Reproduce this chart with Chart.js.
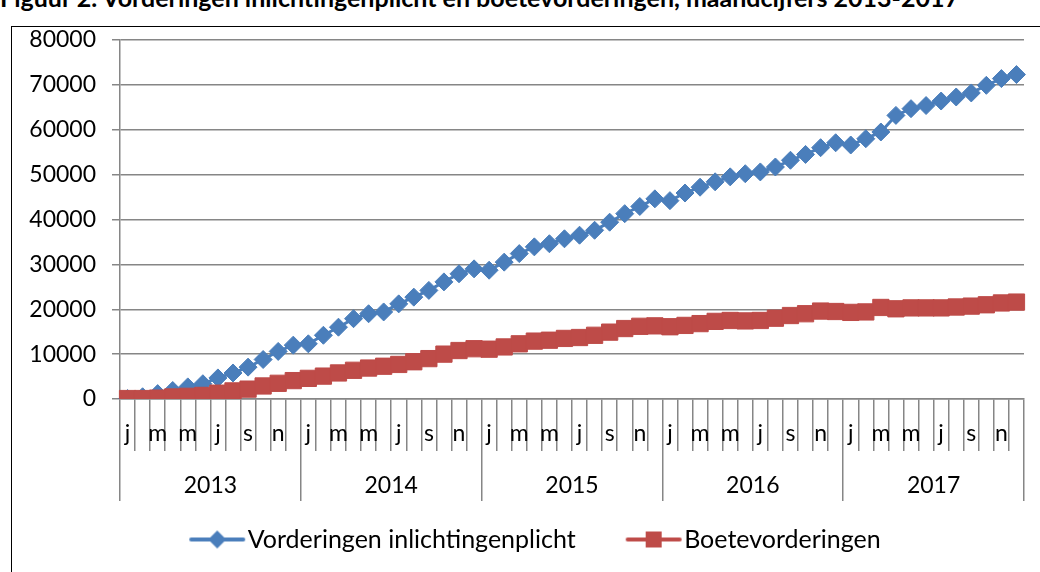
<!DOCTYPE html>
<html><head><meta charset="utf-8">
<script src="https://cdn.jsdelivr.net/npm/chart.js@4.4.1/dist/chart.umd.min.js"></script>
<style>
html,body{margin:0;padding:0;background:#fff;overflow:hidden;width:1040px;height:572px}
#frame{position:absolute;left:11px;top:26px;width:1200px;height:800px;border:1.5px solid #000;box-sizing:border-box}
#title{position:absolute;left:0;top:-15px;font:bold 25px Lato;line-height:25px;white-space:nowrap;color:#000}
#wrap{position:absolute;left:0;top:0;width:1040px;height:572px}
</style></head><body>
<div id="frame"></div>
<div id="title">Figuur 2. Vorderingen inlichtingenplicht en boetevorderingen, maandcijfers 2013-2017</div>
<div id="wrap"><canvas id="c" width="1040" height="572"></canvas></div>
<script>
const years = ['2013','2014','2015','2016','2017'];
const monthLetters = ['j','f','m','a','m','j','j','a','s','o','n','d'];
const yTicks = [0,10000,20000,30000,40000,50000,60000,70000,80000];
const seriesNames = ['Vorderingen inlichtingenplicht','Boetevorderingen'];
const vorderingen = [
  100,500,1200,1900,2700,3400,4700,5800,7100,8800,10600,12000,
  12300,14200,16000,17900,19000,19400,21200,22700,24200,26100,27900,29000,
  28700,30500,32400,33900,34600,35700,36500,37600,39400,41300,42900,44600,
  44200,45900,47200,48400,49500,50200,50600,51700,53200,54500,56000,57100,
  56600,58000,59500,63200,64700,65400,66400,67300,68200,69900,71400,72300];
const boete = [
  100,100,200,450,600,800,1300,1800,2200,2900,3500,4100,
  4600,5100,5800,6400,6900,7300,7700,8300,9000,10000,10800,11200,
  11100,11600,12300,12900,13100,13500,13700,14200,14900,15700,16200,16300,
  16100,16400,16800,17300,17500,17400,17500,18000,18600,19000,19600,19500,
  19300,19400,20400,20100,20300,20300,20300,20500,20700,21000,21400,21600];

const labels = [];
years.forEach(y => monthLetters.forEach(m => labels.push(m)));

const BLUE = '#4a7ebb', RED = '#be4b48', GRID = '#868686';
const FONT = 'Lato';

function legendIcon(color, kind) {
  const c = document.createElement('canvas');
  c.width = 60; c.height = 22;
  const g = c.getContext('2d');
  g.strokeStyle = color; g.lineWidth = 4; g.lineCap = 'round';
  g.beginPath(); g.moveTo(4, 11); g.lineTo(56, 11); g.stroke();
  g.fillStyle = color;
  g.beginPath();
  if (kind === 'diamond') { g.moveTo(30, 2); g.lineTo(39, 11); g.lineTo(30, 20); g.lineTo(21, 11); }
  else { g.rect(22, 3, 16, 16); }
  g.closePath(); g.fill();
  return c;
}
const icons = [legendIcon(BLUE, 'diamond'), legendIcon(RED, 'square')];

const legendShift = {
  id: 'legendShift',
  afterLayout(chart) { const l = chart.legend; if (l) { l.left += 28; l.right += 28; } }
};

new Chart(document.getElementById('c'), {
  type: 'line',
  plugins: [legendShift],
  data: {
    labels: labels,
    datasets: [
      { label: seriesNames[0], data: vorderingen, borderColor: BLUE, backgroundColor: BLUE, borderWidth: 3,
        pointStyle: 'rectRot', pointRadius: 9, pointBorderWidth: 1, pointBorderColor: BLUE, pointBackgroundColor: BLUE, tension: 0, order: 1 },
      { label: seriesNames[1], data: boete, borderColor: RED, backgroundColor: RED, borderWidth: 3,
        pointStyle: 'rect', pointRadius: 11.5, pointBorderWidth: 1, pointBorderColor: RED, pointBackgroundColor: RED, tension: 0, order: 0 }
    ]
  },
  options: {
    responsive: false, animation: false,
    layout: { padding: { top: 40, right: 16, bottom: 10, left: 0 } },
    plugins: {
      tooltip: { enabled: false },
      legend: {
        position: 'bottom',
        labels: {
          usePointStyle: true, pointStyleWidth: 36, padding: 60, color: '#000',
          font: { family: FONT, size: 25 },
          generateLabels: (chart) => chart.data.datasets.map((ds, i) => ({
            text: ds.label, pointStyle: icons[i], fillStyle: ds.borderColor, strokeStyle: ds.borderColor,
            lineWidth: 0, hidden: false, datasetIndex: i
          }))
        }
      }
    },
    scales: {
      y: {
        min: 0, max: 80000,
        afterBuildTicks: (s) => { s.ticks = yTicks.map(v => ({ value: v })); },
        afterFit: (s) => { s.width = 120; },
        grid: { color: GRID, lineWidth: 1.5, tickLength: 8 },
        border: { color: GRID, width: 1.5 },
        ticks: { color: '#000', padding: 16, font: { family: FONT, size: 23 }, callback: (v) => String(v) }
      },
      x: {
        type: 'category', offset: true,
        afterFit: (s) => { s.height = 52; },
        grid: { offset: true, drawOnChartArea: false, color: GRID, lineWidth: 1.5, tickLength: 52 },
        border: { color: GRID, width: 1.5 },
        ticks: { autoSkip: false, maxRotation: 0, minRotation: 0, color: '#000', padding: -31,
          font: { family: FONT, size: 23 },
          callback: (v, i) => (i % 2 === 0 ? labels[i] : '') }
      },
      x2: {
        type: 'category', labels: years, offset: true, position: 'bottom',
        afterFit: (s) => { s.height = 16; },
        grid: { offset: true, drawOnChartArea: false, color: GRID, lineWidth: 1.5, tickLength: 50 },
        border: { display: false },
        ticks: { autoSkip: false, maxRotation: 0, mirror: true, color: '#000', padding: -48, font: { family: FONT, size: 23 } }
      }
    }
  }
});
</script>
</body></html>
